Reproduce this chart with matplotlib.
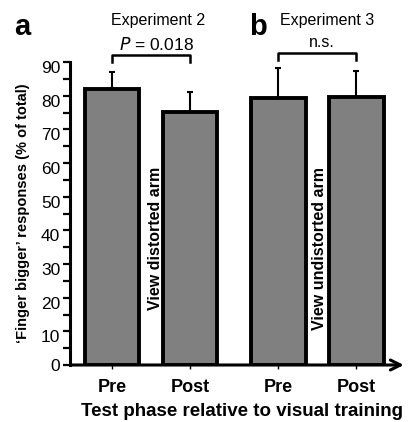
import matplotlib
matplotlib.use('Agg')
import matplotlib.pyplot as plt
import matplotlib.transforms as mtransforms
import numpy as np

plt.rcParams['font.family'] = ['Liberation Sans', 'DejaVu Sans']

# data
conditions = ['Pre', 'Post', 'Pre', 'Post']
means = [82.0, 75.2, 79.4, 79.7]
errUp = [5.0, 6.0, 8.9, 7.6]
yTicks = [0, 10, 20, 30, 40, 50, 60, 70, 80, 90]

W, H = 416, 422
fig = plt.figure(figsize=(W/100, H/100), dpi=100)

def px(x, y):
	return x/W, 1 - y/H

# axes box in pixels: left 70, right 403, top 62, bottom 365
left, right, top, bottom = 70, 403, 62, 365
ax = fig.add_axes([left/W, 1 - bottom/H, (right-left)/W, (bottom-top)/H])

xPos = np.array([0, 1, 2.13, 3.13])
ax.bar(xPos, means, width=0.7, color='#808080', edgecolor='black', linewidth=2.8, zorder=2)
ax.errorbar(xPos, means, yerr=[np.zeros(len(errUp)), errUp], fmt='none',
	ecolor='black', elinewidth=1.5, capsize=2.5, capthick=1.5, zorder=1)

ax.set_xlim(-0.54, 3.73)
ax.set_ylim(0, 90)
ax.spines['top'].set_visible(False)
ax.spines['right'].set_visible(False)
ax.spines['bottom'].set_visible(False)
ax.spines['left'].set_linewidth(2.2)

ax.set_yticks(yTicks)
ax.set_yticklabels([str(v) for v in yTicks], fontsize=12.5)
ax.set_yticks(np.arange(5, 90, 10), minor=True)
ax.tick_params(axis='y', which='both', direction='out', length=5, width=1.6, pad=2)

# labels in the original sit a little below their ticks (except 0)
shiftDown = mtransforms.ScaledTranslation(0, -5/100, fig.dpi_scale_trans)
for lab in ax.get_yticklabels()[1:]:
	lab.set_transform(lab.get_transform() + shiftDown)

ax.set_xticks(xPos)
ax.set_xticklabels(conditions, fontsize=13, fontweight='bold')
ax.tick_params(axis='x', direction='out', length=3, width=1, pad=7)

# x axis with arrow
ax.annotate('', xy=(3.74, 0), xytext=(-0.54, 0), xycoords='data',
	arrowprops=dict(arrowstyle='->', lw=2.2, color='black', mutation_scale=18,
		shrinkA=0, shrinkB=0), annotation_clip=False)

# brackets
ax.plot([0, 0, 1, 1], [90.0, 92.1, 92.1, 90.0], color='black', lw=1.8, clip_on=False)
ax.plot([2.13, 2.13, 3.13, 3.13], [90.6, 92.7, 92.7, 90.6], color='black', lw=1.8, clip_on=False)

fig.text(*px(158, 25), 'Experiment 2', fontsize=11.5, ha='center', va='baseline')
fig.text(*px(156, 50), '$P$ = 0.018', fontsize=12.5, ha='center', va='baseline')
fig.text(*px(327, 25), 'Experiment 3', fontsize=11.5, ha='center', va='baseline')
fig.text(*px(322, 47), 'n.s.', fontsize=11.5, ha='center', va='baseline')
fig.text(*px(14, 35), 'a', fontsize=21, fontweight='bold', ha='left', va='baseline')
fig.text(*px(249, 35), 'b', fontsize=21, fontweight='bold', ha='left', va='baseline')

fig.text(*px(155, 238), 'View distorted arm', fontsize=11.5, fontweight='bold',
	rotation=90, ha='center', va='center')
fig.text(*px(320, 248), 'View undistorted arm', fontsize=11.5, fontweight='bold',
	rotation=90, ha='center', va='center')

fig.text(*px(23, 213), '\u2018Finger bigger\u2019 responses (% of total)', fontsize=10.5,
	fontweight='bold', rotation=90, ha='center', va='center')
fig.text(*px(242, 416), 'Test phase relative to visual training', fontsize=13.5,
	fontweight='bold', ha='center', va='baseline')

fig.savefig('out.png', dpi=100)
